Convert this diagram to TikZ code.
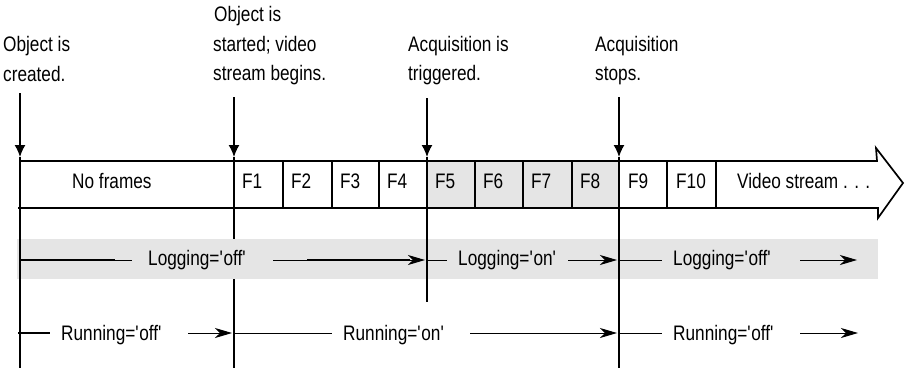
\documentclass[tikz,border=0pt]{standalone}
\usepackage{fontspec}
\setmainfont[FakeStretch=0.82]{Liberation Sans}
\usetikzlibrary{arrows.meta}
\newcommand\myq{\textquotesingle}
\begin{document}
\begin{tikzpicture}[x=1pt,y=-1pt,
  lbl/.style={font=\fontsize{21}{25}\selectfont, inner sep=0pt, anchor=base west},
  vline/.style={line width=1.4pt},
  boxline/.style={line width=1.7pt, line join=miter},
  cellline/.style={line width=1.3pt},
  down/.style={line width=1.4pt, -{Latex[length=12pt,width=11pt]}},
  thinl/.style={line width=1pt},
  thickl/.style={line width=2.4pt},
  rowarrow/.style={line width=1pt, -{Stealth[length=17pt,width=10pt,inset=5pt]}},
  shade/.style={fill=black!10},
]
\useasboundingbox (0,0) rectangle (905,368);

% marker coordinates
\coordinate (A0) at (20,93);   \coordinate (A1) at (20,157);  \coordinate (A2) at (20,368);
\coordinate (B0) at (234,97);  \coordinate (B1) at (234,157); \coordinate (B2) at (234,239);
\coordinate (B3) at (234,279); \coordinate (B4) at (234,368);
\coordinate (C0) at (427,98);  \coordinate (C1) at (427,157); \coordinate (C2) at (427,302);
\coordinate (D0) at (619,97);  \coordinate (D1) at (619,157); \coordinate (D2) at (619,368);

% grey band and shaded frames
\fill[shade] (17,239) rectangle (878,279);
\fill[shade] (427,161) rectangle (619,208);

% video stream arrow
\draw[boxline] (20,161) -- (877,161) -- (876,148) -- (903,183) -- (878,218) -- (878,208) -- (18,208);
\foreach \x in {283,332,379,475,523,572,667,716}
  \draw[cellline] (\x,161) -- (\x,208);

% vertical markers
\draw[down] (A0) -- (A1);
\draw[vline] (A1) -- (A2);
\draw[down] (B0) -- (B1);
\draw[vline] (B1) -- (B2);
\draw[vline] (B3) -- (B4);
\draw[down] (C0) -- (C1);
\draw[vline] (C1) -- (C2);
\draw[down] (D0) -- (D1);
\draw[vline] (D1) -- (D2);

% top labels
\node[lbl] (t1a) at (3,51) {Object is};
\node[lbl] (t1b) at (3,81) {created.};
\node[lbl] (t2a) at (214,21) {Object is};
\node[lbl] (t2b) at (213,51) {started; video};
\node[lbl] (t2c) at (213,80) {stream begins.};
\node[lbl] (t3a) at (408,51) {Acquisition is};
\node[lbl] (t3b) at (408,80) {triggered.};
\node[lbl] (t4a) at (595,51) {Acquisition};
\node[lbl] (t4b) at (595,80) {stops.};

% frame labels
\node[lbl] (nf) at (72,188) {No frames};
\node[lbl] (f1) at (242,188) {F1};
\node[lbl] (f2) at (291,188) {F2};
\node[lbl] (f3) at (340,188) {F3};
\node[lbl] (f4) at (387,188) {F4};
\node[lbl] (f5) at (435,188) {F5};
\node[lbl] (f6) at (483,188) {F6};
\node[lbl] (f7) at (531,188) {F7};
\node[lbl] (f8) at (580,188) {F8};
\node[lbl] (f9) at (628,188) {F9};
\node[lbl] (f10) at (676,188) {F10};
\node[lbl] (vs) at (737,188) {Video stream . . .};

% Logging row
\coordinate (L0) at (20,260);  \coordinate (L1) at (115,260); \coordinate (L2) at (132,260);
\coordinate (L3) at (273,260); \coordinate (L4) at (307,260); \coordinate (L5) at (410,260);
\coordinate (L6) at (425,260); \coordinate (L7) at (447,260);
\coordinate (L8) at (568,260); \coordinate (L9) at (617,260);
\coordinate (L10) at (662,260); \coordinate (L11) at (800,260); \coordinate (L12) at (857,260);
\draw[thickl] (L0) -- (L1);
\draw[thinl] (L1) -- (L2);
\node[lbl] (lg1) at (148,265) {Logging=\myq off\myq};
\draw[rowarrow] (L3) -- (L6);
\draw[thickl] (L4) -- (L5);
\draw[thinl] (C1 |- L0) -- (L7);
\node[lbl] (lg2) at (458,265) {Logging=\myq on\myq};
\draw[rowarrow] (L8) -- (L9);
\draw[thinl] (D1 |- L0) -- (L10);
\node[lbl] (lg3) at (673,265) {Logging=\myq off\myq};
\draw[rowarrow] (L11) -- (L12);

% Running row
\coordinate (R0) at (18,333);  \coordinate (R1) at (50,333);
\coordinate (R2) at (188,333); \coordinate (R3) at (232,333);
\coordinate (R4) at (332,333); \coordinate (R5) at (470,333); \coordinate (R6) at (617,333);
\coordinate (R7) at (662,333); \coordinate (R8) at (800,333); \coordinate (R9) at (858,333);
\draw[thickl] (R0) -- (R1);
\node[lbl] (rn1) at (61,340) {Running=\myq off\myq};
\draw[rowarrow] (R2) -- (R3);
\draw[thinl] (B1 |- R0) -- (R4);
\node[lbl] (rn2) at (343,340) {Running=\myq on\myq};
\draw[rowarrow] (R5) -- (R6);
\draw[thinl] (D1 |- R0) -- (R7);
\node[lbl] (rn3) at (673,340) {Running=\myq off\myq};
\draw[rowarrow] (R8) -- (R9);
\end{tikzpicture}
\end{document}
